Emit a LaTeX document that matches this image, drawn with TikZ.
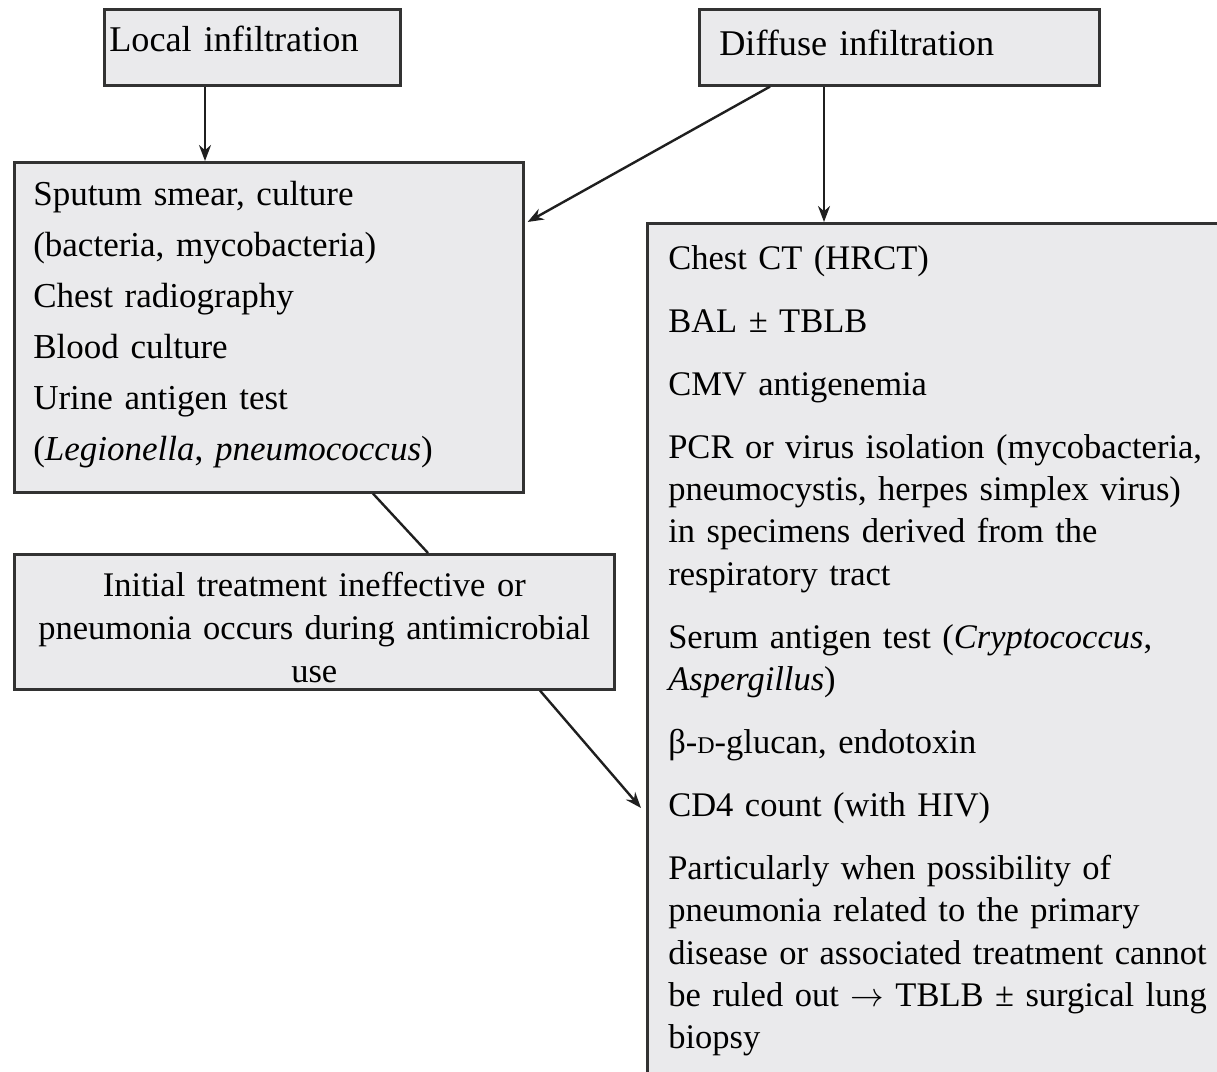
\documentclass[tikz,border=0pt]{standalone}
\usepackage{graphicx}
\usepackage{fontspec}
\setmainfont{Liberation Serif}
\usetikzlibrary{arrows.meta}

\definecolor{boxgray}{RGB}{234,234,236}
\definecolor{edgegray}{RGB}{50,50,50}

\tikzset{
    box/.style={draw=edgegray, line width=2.6pt, fill=boxgray, anchor=north west,
        inner ysep=0pt, align=left, font=\fontsize{34.5}{42.3}\selectfont},
    arr/.style={draw=black!88, line width=2.4pt, -{Stealth[length=16pt,width=12pt]}},
    link/.style={draw=black!88, line width=2.4pt}
}

\begin{document}
\begin{tikzpicture}[x=1pt, y=-1pt]
    \useasboundingbox (0,0) rectangle (1217,1071);
    \clip (0,0) rectangle (1217,1071);

    % top boxes
    \node[box, font=\fontsize{36.2}{42}\selectfont, inner xsep=5pt, text width=286pt,
        text height=42pt, text depth=34pt] (local) at (103,8) {Local infiltration};
    \node[box, font=\fontsize{36.2}{42}\selectfont, inner xsep=20pt, text width=360pt,
        text height=46pt, text depth=30pt] (diffuse) at (698,8) {Diffuse infiltration};

    % left column
    \node[box, font=\fontsize{35}{51}\selectfont, inner xsep=19pt, text width=471pt,
        text height=43pt, text depth=287pt] (sputum) at (13,161)
        {Sputum smear, culture\\
         (bacteria, mycobacteria)\\
         Chest radiography\\
         Blood culture\\
         Urine antigen test\\
         (\textit{Legionella}, \textit{pneumococcus})};

    \node[box, align=center, font=\fontsize{34.5}{43}\selectfont, inner xsep=10pt,
        text width=580pt, text height=42pt, text depth=93pt] (init) at (13,553)
        {Initial treatment ineffective or\\
         pneumonia occurs during antimicrobial\\
         use};

    % right column
    \node[box, inner xsep=21pt, text width=560pt, text height=46pt, text depth=830pt]
        (right) at (646,222)
        {Chest CT (HRCT)\\[20.7pt]
         BAL ± TBLB\\[20.7pt]
         CMV antigenemia\\[20.7pt]
         PCR or virus isolation (mycobacteria,\\
         pneumocystis, herpes simplex virus)\\
         in specimens derived from the\\
         respiratory tract\\[20.7pt]
         Serum antigen test (\textit{Cryptococcus},\\
         \textit{Aspergillus})\\[20.7pt]
         β-{\fontsize{24}{24}\selectfont D}-glucan, endotoxin\\[20.7pt]
         CD4 count (with HIV)\\[20.7pt]
         Particularly when possibility of\\
         pneumonia related to the primary\\
         disease or associated treatment cannot\\
         be ruled out \scalebox{1.35}{$\rightarrow$} TBLB ± surgical lung\\
         biopsy};

    % connectors
    \draw[arr] ([xshift=102pt]local.south west) -- ([xshift=102pt]local.south west |- sputum.north);
    \draw[arr] ([xshift=72pt]diffuse.south west) -- ([xshift=3pt,yshift=-61pt]sputum.north east);
    \draw[arr] ([xshift=126pt]diffuse.south west) -- ([xshift=126pt]diffuse.south west |- right.north);
    \draw[link] ([xshift=360pt]sputum.south west) -- ([xshift=415pt]init.north west);
    \draw[arr] ([xshift=527pt]init.south west) -- ([xshift=-5pt,yshift=-586pt]right.north west);
\end{tikzpicture}
\end{document}
